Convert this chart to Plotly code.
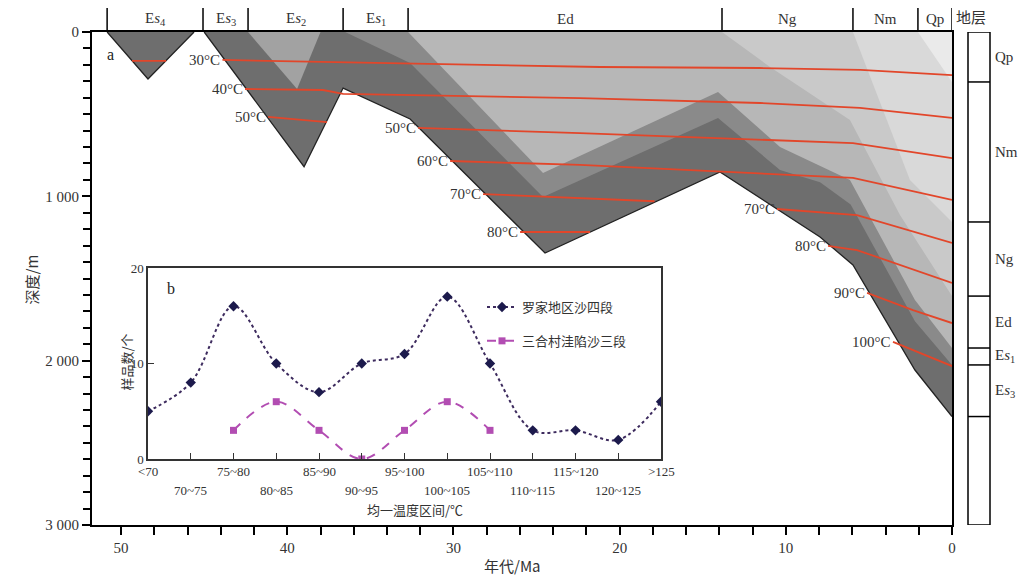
import plotly.graph_objects as go

W, H = 1025, 577
def px(x): return x / W
def py(y): return 1 - y / H

# ---------------- burial history data (age Ma, depth m) ----------------
es4_age = [50.84, 48.38, 45.61]
es4_dep = [0, 286, 0]
es3_base_age = [45.0, 38.99, 36.64, 32.61, 24.49, 13.96, 7.94, 5.96, 2.23, 0]
es3_base_dep = [0, 820, 341, 529, 1345, 852, 1247, 1418, 2057, 2340]
es2_age = [42.36, 39.41, 38.0]
es2_dep = [0, 347, 0]
es1_base_age = [36.52, 32.61, 24.61, 14.08, 10.35, 7.94, 6.10, 2.23, 0]
es1_base_dep = [0, 189, 1004, 523, 840, 915, 1050, 1760, 2026]
ed_base_age = [32.73, 24.61, 14.08, 10.35, 6.14, 2.23, 0]
ed_base_dep = [0, 858, 365, 700, 900, 1631, 1923]
ng_base_age = [13.84, 10.95, 6.14, 3.13, 0]
ng_base_dep = [0, 213, 536, 1114, 1607]
nm_base_age = [5.96, 4.15, 2.53, 0]
nm_base_dep = [0, 475, 901, 1156]
qp_base_age = [2.05, 0]
qp_base_dep = [0, 304]

# isotherms: (label, ages, depths)
isotherms = [
    ("", [49.34, 47.29], [176, 176]),
    ("30°C", [43.9, 33.2, 21.2, 11.6, 5.5, 0], [170, 189, 213, 219, 231, 262]),
    ("40°C", [42.54, 37.85, 36.64, 22.38, 11.55, 5.54, 0], [347, 353, 377, 402, 432, 462, 523]),
    ("50°C", [41.16, 37.61], [517, 548]),
    ("50°C", [32.13, 22.38, 5.96, 0], [584, 615, 676, 767]),
    ("60°C", [30.2, 22.38, 5.96, 0], [785, 809, 888, 1022]),
    ("70°C", [28.22, 22.38, 17.9], [986, 1010, 1030]),
    ("80°C", [25.99, 21.78], [1217, 1217]),
    ("70°C", [10.53, 5.72, 0], [1077, 1114, 1284]),
    ("80°C", [7.46, 5.72, 0], [1302, 1327, 1527]),
    ("90°C", [5.11, 2.35, 0], [1588, 1692, 1771]),
    ("100°C", [3.55, 0], [1886, 2033]),
]

# stratigraphic time boundaries (Ma) and names for the top strip
strat_bounds = [50.84, 45.07, 42.36, 36.64, 32.73, 13.84, 5.96, 2.05, 0]
strat_names = ["E<i>s</i><sub>4</sub>", "E<i>s</i><sub>3</sub>", "E<i>s</i><sub>2</sub>",
               "E<i>s</i><sub>1</sub>", "Ed", "Ng", "Nm", "Qp"]

# present-day column
col_depths = [0, 304, 1156, 1607, 1923, 2026, 2340, 3000]
col_names = ["Qp", "Nm", "Ng", "Ed", "E<i>s</i><sub>1</sub>", "E<i>s</i><sub>3</sub>"]

# ---------------- inset histogram data ----------------
cats = ["<70", "70~75", "75~80", "80~85", "85~90", "90~95", "95~100",
        "100~105", "105~110", "110~115", "115~120", "120~125", ">125"]
luojia = [5, 8, 16, 10, 7, 10, 11, 17, 10, 3, 3, 2, 6]
sanhe_idx = [2, 3, 4, 5, 6, 7, 8]
sanhe = [3, 6, 3, 0, 3, 6, 3]

SERIF = "Liberation Serif"
CJK = "Noto Sans CJK SC"
RED = "#e2462a"

fig = go.Figure()

def poly(ages, deps, color):
    # burial curve, then back along the surface (depth 0) to the start
    xs = list(ages) + [ages[-1], ages[0]]
    ys = list(deps) + [0, 0]
    fig.add_trace(go.Scatter(x=xs, y=ys, fill="toself", fillcolor=color, mode="lines",
                             line=dict(width=0), hoverinfo="skip", showlegend=False,
                             xaxis="x", yaxis="y"))

poly(es4_age, es4_dep, "#6e6e6e")
poly(es3_base_age, es3_base_dep, "#6e6e6e")
poly(es2_age, es2_dep, "#a2a2a2")
poly(es1_base_age, es1_base_dep, "#8a8a8a")
poly(ed_base_age, ed_base_dep, "#b7b7b7")
poly(ng_base_age, ng_base_dep, "#c9c9c9")
poly(nm_base_age, nm_base_dep, "#d9d9d9")
poly(qp_base_age, qp_base_dep, "#eaeaea")

for ages, deps in [(es4_age, es4_dep), (es3_base_age, es3_base_dep)]:
    fig.add_trace(go.Scatter(x=ages, y=deps, mode="lines", line=dict(color="#222", width=1.3),
                             hoverinfo="skip", showlegend=False, xaxis="x", yaxis="y"))

annotations = []
def note(**kw):
    kw.setdefault("showarrow", False)
    kw.setdefault("yanchor", "middle")
    annotations.append(kw)

for lab, ages, deps in isotherms:
    fig.add_trace(go.Scatter(x=ages, y=deps, mode="lines", line=dict(color=RED, width=1.8),
                             hoverinfo="skip", showlegend=False, xaxis="x", yaxis="y"))
    if lab:
        note(x=ages[0], y=deps[0], xref="x", yref="y", text=lab, xanchor="right",
             font=dict(family=SERIF, size=15, color="#333"))

# inset series
fig.add_trace(go.Scatter(x=list(range(len(cats))), y=luojia, mode="lines+markers",
                         name="罗家地区沙四段", legendgroup="a",
                         line=dict(color="#3d2b5e", width=2, dash="dot", shape="spline"),
                         marker=dict(symbol="diamond", size=8, color="#1c1a4c"),
                         xaxis="x2", yaxis="y2"))
fig.add_trace(go.Scatter(x=sanhe_idx, y=sanhe, mode="lines+markers",
                         name="三合村洼陷沙三段", legendgroup="b",
                         line=dict(color="#b24db2", width=2, dash="dash", shape="spline"),
                         marker=dict(symbol="square", size=7, color="#b24db2"),
                         xaxis="x2", yaxis="y2"))

shapes = []
# top strip separators
for b in strat_bounds:
    shapes.append(dict(type="line", xref="x", yref="paper", x0=b, x1=b,
                       y0=py(32), y1=py(8), line=dict(color="black", width=1.5)))
for i, nm in enumerate(strat_names):
    note(x=(strat_bounds[i] + strat_bounds[i + 1]) / 2, y=py(19), xref="x", yref="paper",
         text=nm, font=dict(family=SERIF, size=15, color="#333"))
# stratigraphic column
shapes.append(dict(type="rect", xref="paper", yref="y", x0=px(968), x1=px(990),
                   y0=0, y1=3000, line=dict(color="black", width=1.5), fillcolor="white",
                   layer="below"))
for d in col_depths[1:-1]:
    shapes.append(dict(type="line", xref="paper", yref="y", x0=px(968), x1=px(990),
                       y0=d, y1=d, line=dict(color="black", width=1.5)))
for i, nm in enumerate(col_names):
    note(x=px(993), y=(col_depths[i] + col_depths[i + 1]) / 2, xref="paper", yref="y",
         text=nm, xanchor="left", font=dict(family=SERIF, size=15, color="#333"))
# inset category labels in two staggered rows
for i, c in enumerate(cats):
    note(x=i, y=py(471 if i % 2 == 0 else 490), xref="x2", yref="paper", text=c,
         font=dict(family=SERIF, size=13, color="#333"))
note(x=px(988), y=py(17), xref="paper", yref="paper", text="地层",
     font=dict(family=CJK, size=15, color="#333"))
note(x=px(105), y=py(55), xref="paper", yref="paper", text="a",
     font=dict(family=SERIF, size=16, color="#222"))
note(x=px(165), y=py(288), xref="paper", yref="paper", text="b",
     font=dict(family=SERIF, size=16, color="#222"))
note(x=px(512), y=py(565), xref="paper", yref="paper", text="年代/Ma",
     font=dict(family=CJK, size=15, color="#333"))
note(x=px(18), y=py(280), xref="paper", yref="paper", text="深度/m", textangle=-90,
     font=dict(family=CJK, size=15, color="#333"))
note(x=px(415), y=py(509), xref="paper", yref="paper", text="均一温度区间/℃",
     font=dict(family=CJK, size=13, color="#333"))
note(x=px(114), y=py(362), xref="paper", yref="paper", text="样品数/个", textangle=-90,
     font=dict(family=CJK, size=13, color="#333"))

fig.update_layout(
    width=W, height=H, margin=dict(l=0, r=0, t=0, b=0),
    paper_bgcolor="white", plot_bgcolor="white",
    xaxis=dict(domain=[px(92), px(952)], range=[51.75, 0], showgrid=False, zeroline=False,
               showline=True, linecolor="black", linewidth=2, mirror=True, automargin=False,
               ticks="outside", ticklen=8, tickwidth=1.5, tickcolor="black",
               tickmode="linear", tick0=0, dtick=10,
               minor=dict(tickmode="linear", tick0=0, dtick=2, ticks="outside", ticklen=8,
                          tickwidth=1.5, tickcolor="black"),
               tickfont=dict(family=SERIF, size=15, color="#333"), anchor="y"),
    yaxis=dict(domain=[py(525), py(32)], range=[3000, 0], showgrid=False, zeroline=False,
               showline=True, linecolor="black", linewidth=2, mirror=True, automargin=False,
               ticks="outside", ticklen=8, tickwidth=1.5, tickcolor="black",
               tickmode="array", tickvals=[0, 1000, 2000, 3000],
               ticktext=["0", "1 000", "2 000", "3 000"],
               minor=dict(tickmode="linear", tick0=0, dtick=100, ticks="outside", ticklen=7,
                          tickwidth=1.5, tickcolor="black"),
               tickfont=dict(family=SERIF, size=15, color="#333"), anchor="x"),
    xaxis2=dict(domain=[px(148), px(661)], range=[0, 12], showgrid=False, zeroline=False,
                showline=True, linecolor="#333", linewidth=1.5, mirror=True, automargin=False,
                ticks="inside", ticklen=6, tickcolor="#333", tickmode="array",
                tickvals=list(range(len(cats))), showticklabels=False, anchor="y2"),
    yaxis2=dict(domain=[py(459), py(268)], range=[0, 20], showgrid=False, zeroline=False,
                showline=True, linecolor="#333", linewidth=1.5, mirror=True, automargin=False,
                ticks="inside", ticklen=6, tickcolor="#333", tickvals=[0, 10, 20],
                tickfont=dict(family=SERIF, size=13, color="#333"), anchor="x2"),
    legend=dict(x=px(482), y=py(292), xanchor="left", yanchor="top",
                bgcolor="rgba(0,0,0,0)", tracegroupgap=14,
                font=dict(family=CJK, size=13, color="#333")),
    shapes=shapes, annotations=annotations,
)

fig.write_html("out.html", config={"displayModeBar": False},
               post_script="document.body.style.margin='0px';")
